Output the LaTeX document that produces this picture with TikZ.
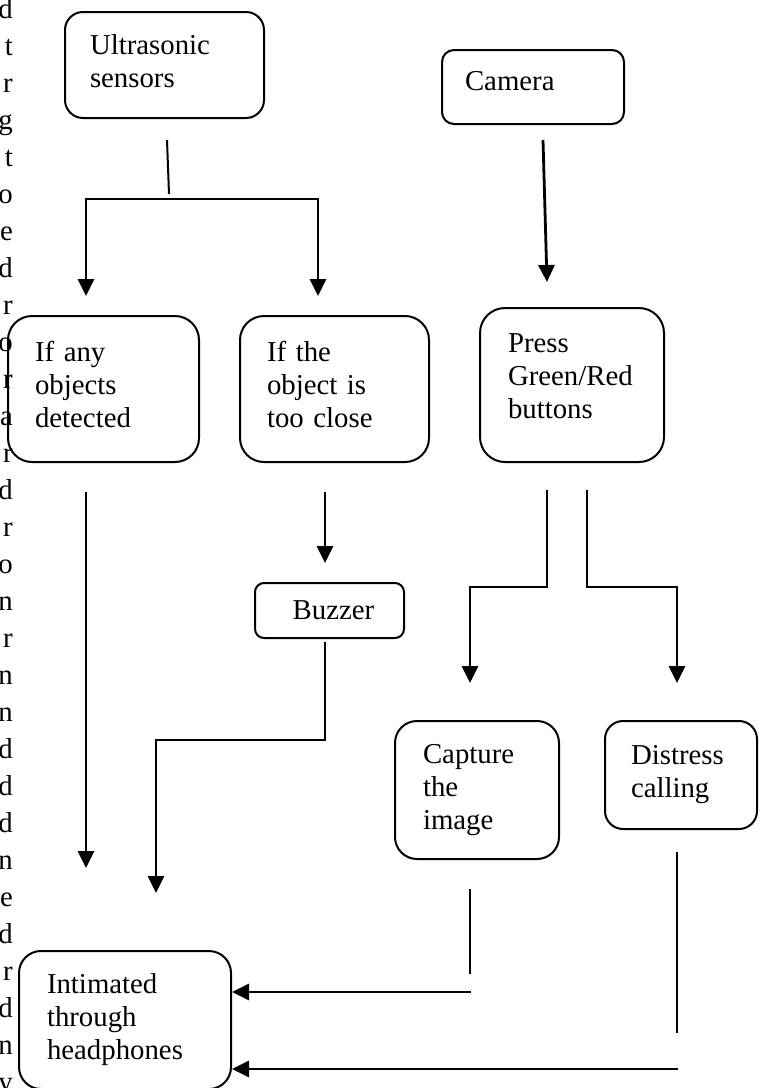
\documentclass[tikz,border=0pt]{standalone}
\usepackage{fontspec}
\setmainfont{Liberation Serif}
\usetikzlibrary{arrows.meta}

\newcommand\tailgap[1]{\rule[-#1]{0pt}{#1}}
\tikzset{
  stage/.style={draw,line width=2pt,rounded corners=#1,align=left,anchor=north west,inner ysep=0pt},
  flow/.style={line width=2.8pt,-{Triangle[length=17pt,width=16pt]}},
  bare/.style={line width=2pt},
}

\begin{document}
\begin{tikzpicture}[x=1pt,y=-1pt,font=\fontsize{28.8}{33}\selectfont]
\useasboundingbox (0,0) rectangle (762,1088);
% ends of the page text cut off at the left edge
\foreach \ch [count=\i from 0] in {d,t,r,g,t,o,e,d,r,o,r,a,r,d,r,o,n,r,n,n,d,d,d,n,e,d,r,d,n,y}
  \node[anchor=base east,inner sep=0pt] (edge\i) at (13,{18+37*\i}) {\ch};

% boxes
\node[stage=18pt,inner xsep=25pt,text width=149pt,minimum height=106pt] (ultra) at (64,11) {Ultrasonic\\sensors\tailgap{8pt}};
\node[stage=12pt,inner xsep=23pt,text width=136pt,minimum height=74pt,text depth=12pt] (camera) at (441,49) {Camera};
\node[stage=24pt,inner xsep=27pt,text width=137pt,minimum height=146pt] (anyobj) at (7,315) {If any\\objects\\detected\tailgap{10pt}};
\node[stage=24pt,inner xsep=27pt,text width=135pt,minimum height=146pt] (tooclose) at (239,315) {If the\\object is\\too close\tailgap{10pt}};
\node[stage=25pt,inner xsep=28pt,text width=128pt,minimum height=154pt] (press) at (479,307) {Press\\Green/Red\\buttons\tailgap{18pt}};
\node[stage=9pt,inner xsep=0pt,text width=149pt,align=center,minimum height=55pt] (buzzer) at (254,582) {\hspace*{8pt}Buzzer};
\node[stage=22pt,inner xsep=28pt,text width=108pt,minimum height=138pt] (capture) at (394,720) {Capture\\the\\image};
\node[stage=18pt,inner xsep=26pt,text width=100pt,minimum height=108pt] (distress) at (604,720) {Distress\\calling};
\node[stage=22pt,inner xsep=28pt,text width=156pt,minimum height=138pt] (intim) at (18,950) {Intimated\\through\\headphones};

% free ends of the connectors
\coordinate (u0) at (167,140); \coordinate (u1) at (169,194);
\coordinate (f0) at (86,296); \coordinate (f1) at (86,199);
\coordinate (f2) at (318,199); \coordinate (f3) at (318,296);
\coordinate (c0) at (543,140); \coordinate (c1) at (547,282);
\coordinate (a0) at (86,492); \coordinate (a1) at (86,868);
\coordinate (t0) at (325,492); \coordinate (t1) at (325,563);
\coordinate (b0) at (325,642); \coordinate (b1) at (325,740);
\coordinate (b2) at (156,740); \coordinate (b3) at (156,893);
\coordinate (p0) at (547,490); \coordinate (p1) at (547,587);
\coordinate (p2) at (470,587); \coordinate (p3) at (470,683);
\coordinate (q0) at (587,490); \coordinate (q1) at (587,587);
\coordinate (q2) at (677,587); \coordinate (q3) at (677,683);
\coordinate (g0) at (470,889); \coordinate (g1) at (470,974); \coordinate (g2) at (471,992);
\coordinate (d0) at (677,852); \coordinate (d1) at (677,1033); \coordinate (d2) at (678,1069);

% connectors
\draw[bare] (u0) -- (u1);
\draw[flow,{Triangle[length=17pt,width=16pt]}-{Triangle[length=17pt,width=16pt]}] (f0) -- (f1) -- (f2) -- (f3);
\draw[flow] (c0) -- (c1);
\draw[flow] (a0) -- (a1);
\draw[flow] (t0) -- (t1);
\draw[flow] (b0) -- (b1) -- (b2) -- (b3);
\draw[flow] (p0) -- (p1) -- (p2) -- (p3);
\draw[flow] (q0) -- (q1) -- (q2) -- (q3);
\draw[bare] (g0) -- (g1);
\draw[flow] (g2) -- (g2 -| intim.east);
\draw[bare] (d0) -- (d1);
\draw[flow] (d2) -- (d2 -| intim.east);
\end{tikzpicture}
\end{document}
